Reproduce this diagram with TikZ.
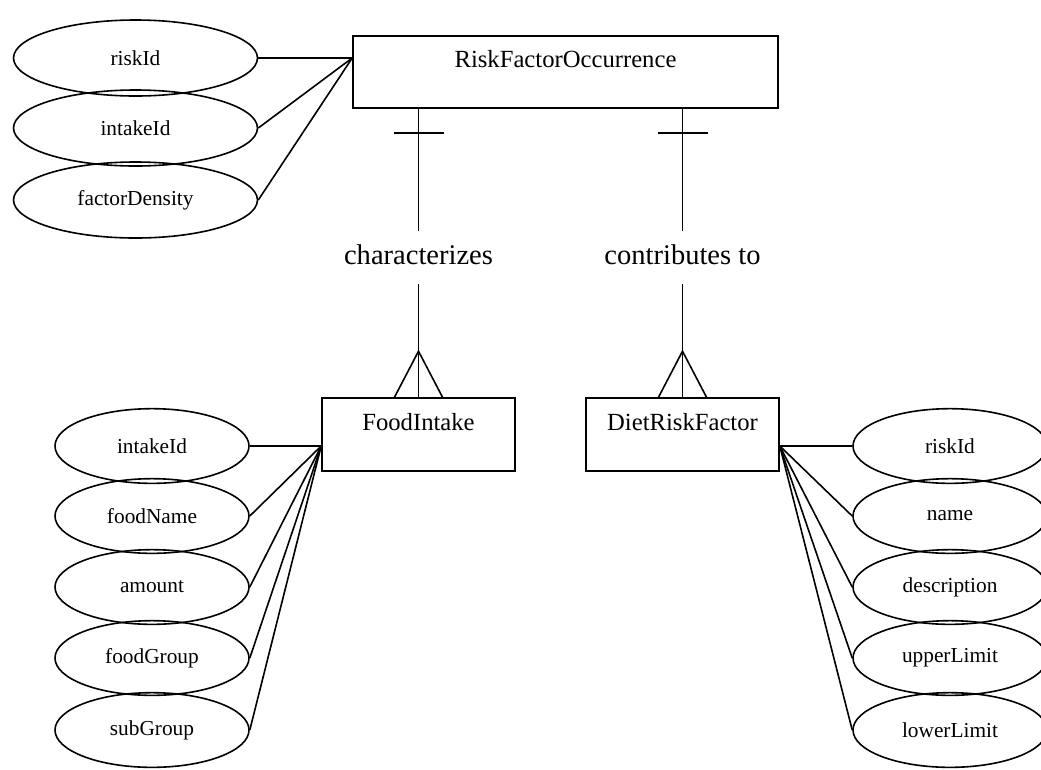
\documentclass[tikz,border=0pt]{standalone}
\usepackage{fontspec}
\setmainfont{Liberation Serif}
\usetikzlibrary{shapes.geometric}
\tikzstyle{entity} = [rectangle, draw, minimum width=144.75pt, minimum height=54.75pt, text depth=19pt, font=\fontsize{18.5}{20}\selectfont]
\tikzstyle{attr} = [ellipse, draw, minimum width=145.5pt, minimum height=56pt, inner sep=0pt, font=\fontsize{16}{18}\selectfont]
\tikzstyle{bigattr} = [attr, minimum width=183pt, minimum height=57pt]
\tikzstyle{rel} = [inner xsep=2pt, inner ysep=9pt, text height=15pt, text depth=5pt, font=\fontsize{21.4}{24}\selectfont]

\begin{document}
\begin{tikzpicture}[x=0.75pt, y=-0.75pt, line width=1.2pt]
	\useasboundingbox (0,0) rectangle (1041,769);
	% entities
	\node[entity, minimum width=318.75pt, minimum height=54pt] (rfo) at (565.5,72) {RiskFactorOccurrence};
	\node[entity] (fi) at (418.5,434.5) {FoodIntake};
	\node[entity] (drf) at (682.5,434.5) {DietRiskFactor};
	% relationships
	\node[rel] (char) at (418.5,257.5) {characterizes};
	\node[rel] (contr) at (682.5,257.5) {contributes to};
	\draw (rfo.south -| char.north) -- (char.north);
	\draw (char.south) -- (fi.north);
	\draw (rfo.south -| char.north) ++(-25,24) -- ++(50,0);
	\draw (fi.north) ++(-24,0) -- ++(24,-46) -- ++(24,46);
	\draw (rfo.south -| contr.north) -- (contr.north);
	\draw (contr.south) -- (drf.north);
	\draw (rfo.south -| contr.north) ++(-25,24) -- ++(50,0);
	\draw (drf.north) ++(-24,0) -- ++(24,-46) -- ++(24,46);
	% attributes of RiskFactorOccurrence
	\node[bigattr] (o1) at (135.5,58) {riskId};
	\node[bigattr] (o2) at (135.5,128) {intakeId};
	\node[bigattr] (o3) at (135.5,200) {factorDensity};
	\coordinate (rfoin) at (rfo.west |- o1.east);
	\draw (o1.east) -- (rfoin);
	\draw (o2.east) -- (rfoin);
	\draw (o3.east) -- (rfoin);
	% attributes of FoodIntake
	\node[attr] (f1) at (152,446) {intakeId};
	\node[attr] (f2) at (152,516) {foodName};
	\node[attr] (f3) at (152,587) {amount};
	\node[attr] (f4) at (152,658) {foodGroup};
	\node[attr] (f5) at (152,730) {subGroup};
	\coordinate (fiin) at (fi.west |- f1.east);
	\draw (f1.east) -- (fiin);
	\draw (f2.east) -- (fiin);
	\draw (f3.east) -- (fiin);
	\draw (f4.east) -- (fiin);
	\draw (f5.east) -- (fiin);
	% attributes of DietRiskFactor
	\node[attr] (d1) at (950,446) {riskId};
	\node[attr] (d2) at (950,516) {name};
	\node[attr] (d3) at (950,587) {description};
	\node[attr] (d4) at (950,658) {upperLimit};
	\node[attr] (d5) at (950,730) {lowerLimit};
	\coordinate (drfin) at (drf.east |- d1.west);
	\draw (d1.west) -- (drfin);
	\draw (d2.west) -- (drfin);
	\draw (d3.west) -- (drfin);
	\draw (d4.west) -- (drfin);
	\draw (d5.west) -- (drfin);
\end{tikzpicture}
\end{document}
